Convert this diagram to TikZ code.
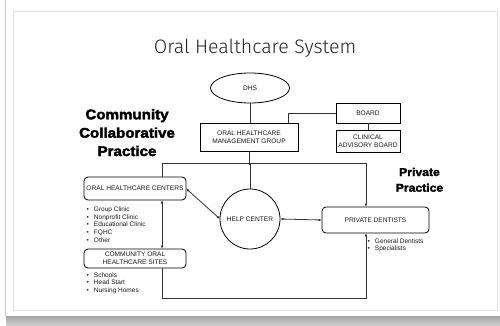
\documentclass[tikz,border=0pt]{standalone}
\usepackage{fontspec}
\setmainfont{Liberation Sans}
\newfontfamily\titlefont{Fira Sans Light}
\newfontfamily\heavyfont[FakeBold=2.5,FakeStretch=1.08]{Liberation Sans Bold}
\usetikzlibrary{shapes.geometric,arrows.meta,calc}
\definecolor{linegray}{HTML}{333333}
\definecolor{txtgray}{HTML}{1A1A1A}
\begin{document}
\begin{tikzpicture}[x=1pt,y=-1pt,
  every node/.style={inner sep=0pt,outer sep=0pt,text=txtgray,
    font=\fontsize{6.6}{8}\selectfont},
  plainbox/.style={draw=black,line width=0.8pt,align=center},
  roundbox/.style={draw=black,line width=0.8pt,rounded corners=4pt,align=center},
  conn/.style={draw=linegray,line width=0.8pt},
  arr/.style={-{Latex[length=3.5pt,width=2.6pt]}},
  dbl/.style={{Latex[length=3.5pt,width=2.6pt]}-{Latex[length=3.5pt,width=2.6pt]}},
  bul/.style={anchor=base west,font=\fontsize{6.5}{7.7}\selectfont},
  heading/.style={anchor=base,font=\heavyfont\fontsize{14}{18}\selectfont,text=black},
  subheading/.style={anchor=base,font=\heavyfont\fontsize{11.3}{15}\selectfont,text=black}
]
\useasboundingbox (0,0) rectangle (500,326);
% frame
\fill[white] (0,0) rectangle (500,326);
\draw[gray!45,line width=1.5pt] (5.5,0) -- (5.5,316);
\shade[top color=gray!70,bottom color=gray!35] (6,316) rectangle (500,326);
\draw[gray!25,line width=0.8pt,fill=white] (13,11) rectangle (497,310);

% title
\node[font=\titlefont\fontsize{19.5}{22}\selectfont,anchor=base,text=black!85] (title) at (255,54) {Oral Healthcare System};

% headings
\node[heading] (comm1) at (127,119.3) {Community};
\node[heading] (comm2) at (127,137.7) {Collaborative};
\node[heading] (comm3) at (127,156) {Practice};
\node[subheading] (priv1) at (419.5,176) {Private};
\node[subheading] (priv2) at (419.5,191.7) {Practice};

% nodes
\node[ellipse,draw=black,line width=0.8pt,minimum width=79pt,minimum height=30pt] (dhs) at (250,88) {DHS};
\node[plainbox,minimum width=98pt,minimum height=28pt] (ohmg) at (249,137) {ORAL HEALTHCARE\\MANAGEMENT GROUP};
\node[plainbox,minimum width=64pt,minimum height=20pt] (board) at (368,113) {BOARD};
\node[plainbox,minimum width=64pt,minimum height=22pt] (cab) at (368,141) {CLINICAL\\ADVISORY BOARD};
\node[roundbox,minimum width=102pt,minimum height=23pt] (ohc) at (135,188.5) {ORAL HEALTHCARE CENTERS};
\node[roundbox,minimum width=102pt,minimum height=19pt] (cohs) at (135,258.5) {COMMUNITY ORAL\\HEALTHCARE SITES};
\node[roundbox,minimum width=107pt,minimum height=26pt] (pd) at (375.5,220) {PRIVATE DENTISTS};
\node[circle,draw=black,line width=0.8pt,minimum size=60pt] (hc) at (250,219) {HELP CENTER};

% bullet lists
\foreach \t [count=\i] in {Group Clinic,Nonprofit Clinic,Educational Clinic,FQHC,Other}{
  \node[bul] (ohcb\i) at (86.5,{211.3+7.7*(\i-1)}) {\textbullet\hspace{5.2pt}\t};
}
\foreach \t [count=\i] in {Schools,Head Start,Nursing Homes}{
  \node[bul] (cohsb\i) at (86.5,{277.3+7.6*(\i-1)}) {\textbullet\hspace{5.2pt}\t};
}
\foreach \t [count=\i] in {General Dentists,Specialists}{
  \node[bul] (pdb\i) at (367.5,{243.3+7.2*(\i-1)}) {\textbullet\hspace{5.2pt}\t};
}

% connectors
\coordinate (busL) at (162,163);
\coordinate (busR) at (366,163);
\coordinate (loopL) at (162,298);
\coordinate (loopR) at (366,298);
\draw[conn] (dhs.south) -- (dhs.south |- ohmg.north);
\draw[conn] ($(ohmg.north east)+(-10,0)$) |- (board.west);
\draw[conn] (board.south) -- (board.south |- cab.north);
\draw[conn] (ohmg.south) -- (ohmg.south |- busL);
\draw[conn] (busL |- ohc.north) -- (busL) -- (busR);
\draw[conn,arr] (busR) -- (busR |- pd.north);
\draw[conn,-{Latex[length=2pt,width=2pt]}] (hc.north) -- (hc.north |- busL);
\draw[conn,dbl] (ohc.east) -- (hc.west);
\draw[conn,dbl] (hc.east) -- (pd.west);
\draw[conn,dbl] (busL |- ohc.south) -- (busL |- cohs.north);
\draw[conn,arr] (busL |- cohs.south) -- (loopL) -- (loopR) -- (busR |- pd.south);
\end{tikzpicture}
\end{document}
